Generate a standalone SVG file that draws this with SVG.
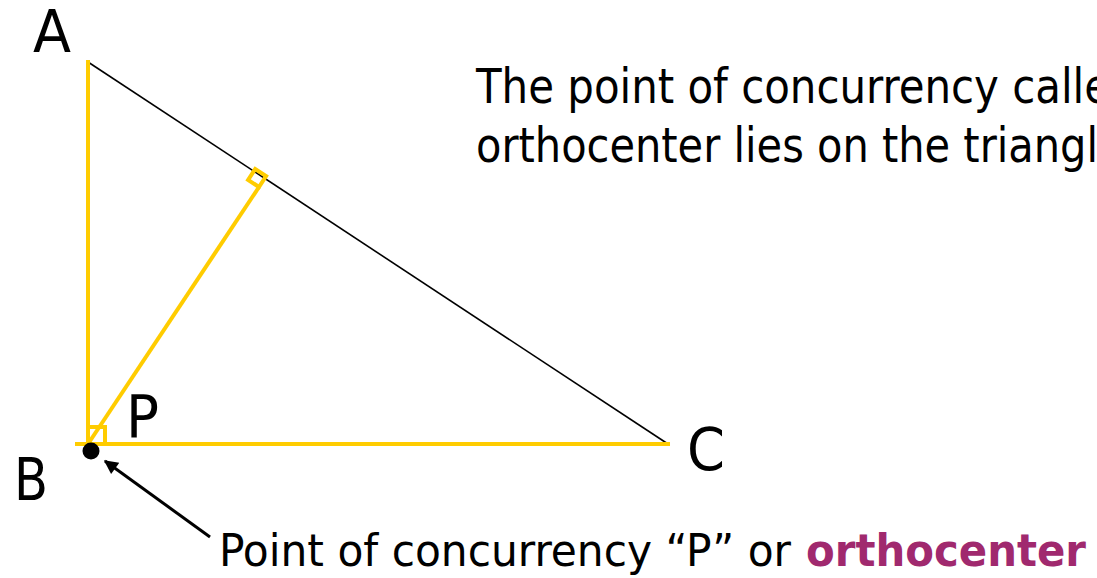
<svg xmlns="http://www.w3.org/2000/svg" width="1097" height="578" viewBox="0 0 1097 578">
<defs>
<style>
.t{font-family:"DejaVu Sans Condensed","DejaVu Sans",sans-serif;fill:#000}
.lbl{font-size:58px}
.y{stroke:#FFCC00;stroke-width:4;fill:none}
</style>
<marker id="ah" viewBox="0 0 10 10" refX="9" refY="5" markerWidth="18" markerHeight="14" markerUnits="userSpaceOnUse" orient="auto">
<path d="M0,0 L10,5 L0,10 z" fill="#000"/>
</marker>
</defs>
<rect width="1097" height="578" fill="#fff"/>
<g id="triangle">
<line x1="88" y1="62" x2="668" y2="444" stroke="#000" stroke-width="1.6"/>
<line class="y" x1="88" y1="60" x2="88" y2="446"/>
<line class="y" x1="75" y1="444" x2="670" y2="444"/>
<line class="y" x1="88" y1="444" x2="259" y2="187"/>
<polygon class="y" points="259,187 248.1,179.9 255.2,169 266.1,176.1"/>
<rect class="y" x="88" y="427" width="17" height="17"/>
</g>
<g id="dotB"><circle cx="91" cy="451" r="8.5" fill="#000"/></g>
<g id="connectors">
<line x1="210" y1="537" x2="105" y2="461" stroke="#000" stroke-width="3" marker-end="url(#ah)"/>
</g>
<g id="labels">
<text class="t lbl" x="33" y="52" textLength="38" lengthAdjust="spacingAndGlyphs">A</text>
<text class="t lbl" x="14" y="500" textLength="34" lengthAdjust="spacingAndGlyphs">B</text>
<text class="t lbl" x="687" y="470" textLength="38" lengthAdjust="spacingAndGlyphs">C</text>
<text class="t lbl" x="126" y="437" textLength="33" lengthAdjust="spacingAndGlyphs">P</text>
</g>
<g id="desc">
<text class="t" font-size="48" x="476" y="103" textLength="634" lengthAdjust="spacingAndGlyphs">The point of concurrency calle</text>
<text class="t" font-size="48" x="476" y="162" textLength="622" lengthAdjust="spacingAndGlyphs">orthocenter lies on the triangl</text>
</g>
<g id="caption">
<text class="t" font-size="45" x="219" y="566" textLength="572" lengthAdjust="spacingAndGlyphs">Point of concurrency “P” or</text>
<text class="t" font-size="45" font-weight="bold" x="806" y="566" textLength="280" lengthAdjust="spacingAndGlyphs" style="fill:#A0296E">orthocenter</text>
</g>
</svg>
